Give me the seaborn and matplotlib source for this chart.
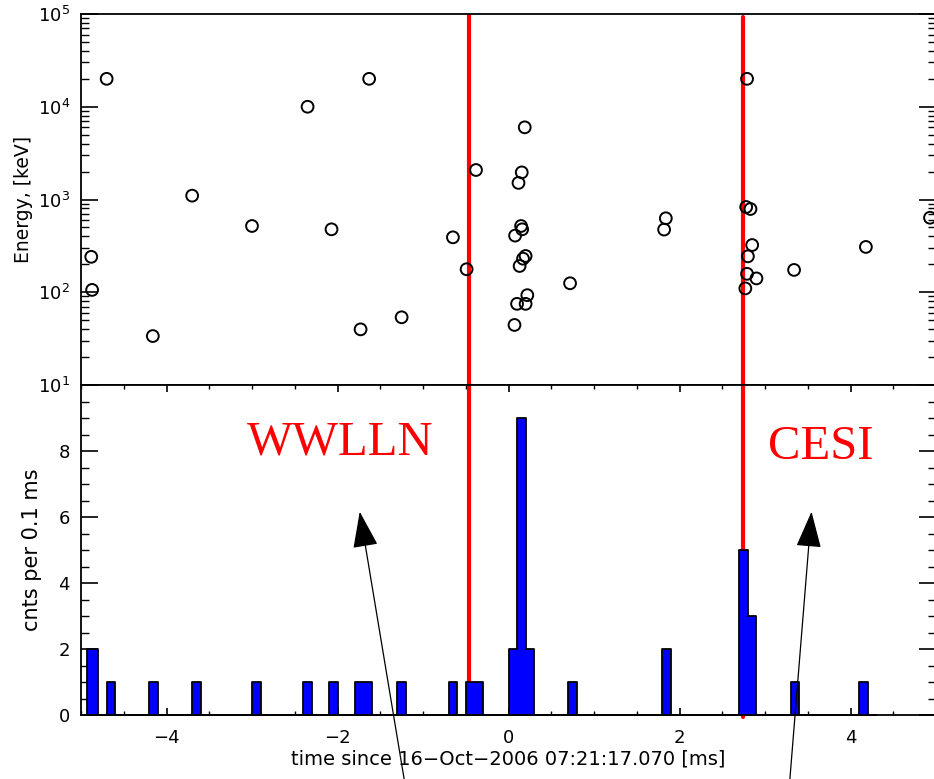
import numpy as np
import pandas as pd
import matplotlib
matplotlib.use("Agg")
import matplotlib.pyplot as plt
import matplotlib.ticker as mticker
import seaborn as sns

# ---------------- data ----------------
evt_time = [-4.70, -4.88, -4.87, -4.16, -3.70, -3.00, -2.35, -2.07, -1.63, -1.73,
            -1.25, -0.65, -0.49, -0.38, 0.19, 0.155, 0.117, 0.147, 0.16, 0.077,
            0.20, 0.17, 0.13, 0.22, 0.10, 0.20, 0.07, 0.72, 1.84, 1.82,
            2.79, 2.78, 2.83, 2.85, 2.80, 2.79, 2.90, 2.77, 3.34, 4.18, 4.93]
evt_energy = [2.0e4, 241, 106, 33.7, 1100, 518, 1.0e4, 477, 2.0e4, 39.8,
              53.7, 391, 177, 2080, 6000, 1960, 1510, 518, 477, 408,
              246, 230, 192, 93, 75, 75, 44.4, 125, 627, 474,
              2.0e4, 830, 790, 323, 244, 158, 141, 110, 174, 308, 636]

# histogram (counts per 0.1 ms): bin left edges and counts
bin_left = [-4.93, -4.7, -4.2, -3.7, -3.0, -2.4, -2.1, -1.8, -1.7, -1.3,
            -0.7, -0.5, -0.4, 0.0, 0.1, 0.2, 0.7, 1.8, 2.7, 2.8, 3.3, 4.1]
bin_count = [2, 1, 1, 1, 1, 1, 1, 1, 1, 1,
             1, 1, 1, 2, 9, 2, 1, 2, 5, 3, 1, 1]

wwlln_time = -0.465
cesi_time = 2.745

x_ticks = [-4, -2, 0, 2, 4]
y_bottom_ticks = [0, 2, 4, 6, 8]

# ---------------- style ----------------
sns.set_theme(style="ticks")
plt.rcParams["font.family"] = ["DejaVu Sans"]
plt.rcParams["axes.linewidth"] = 1.3
plt.rcParams["mathtext.default"] = "regular"
for key in ("text.color", "axes.labelcolor", "xtick.color", "ytick.color",
            "axes.edgecolor", "xtick.labelcolor", "ytick.labelcolor"):
    plt.rcParams[key] = "black"

fig = plt.figure(figsize=(9.34, 7.79), dpi=100)
W, H = 934.0, 779.0
x0, x1 = 81.0, 936.0
ax_top = fig.add_axes([x0 / W, 1 - 385 / H, (x1 - x0) / W, (385 - 14) / H])
ax_bot = fig.add_axes([x0 / W, 1 - 715 / H, (x1 - x0) / W, (715 - 385) / H],
                      sharex=ax_top)

# ---------------- top panel ----------------
df = pd.DataFrame({"t": evt_time, "E": evt_energy})
ax_top.axvline(wwlln_time, color="red", lw=3.0, zorder=1)
ax_top.axvline(cesi_time, color="red", lw=3.0, ymax=0.992, zorder=1)
sns.scatterplot(data=df, x="t", y="E", ax=ax_top, marker="o", s=72,
                facecolor="none", edgecolor="black", linewidth=1.4, zorder=3,
                legend=False)
ax_top.set_yscale("log")
ax_top.set_ylim(10, 1e5)
ax_top.set_xlim(-5, 5)
ax_top.yaxis.set_major_locator(mticker.LogLocator(base=10, numticks=10))
ax_top.yaxis.set_minor_locator(mticker.LogLocator(base=10, subs=np.arange(2, 10), numticks=20))
ax_top.yaxis.set_minor_formatter(mticker.NullFormatter())
ax_top.tick_params(axis="y", which="major", direction="in", length=12, width=1.2,
                   left=True, right=True, labelsize=13, pad=8)
ax_top.tick_params(axis="y", which="minor", direction="in", length=6, width=1.0,
                   left=True, right=True)
ax_top.tick_params(axis="x", which="both", bottom=False, top=False, labelbottom=False)
ax_top.set_xlabel("")
ax_top.set_ylabel("Energy, [keV]", fontsize=13.5, labelpad=3)

# ---------------- bottom panel ----------------
edges = [bin_left[0], -4.8] + list(np.round(np.arange(-47, 44) / 10.0, 1))
centers = [b + 0.05 for b in bin_left]
centers[0] = (bin_left[0] + (-4.8)) / 2
hist_df = pd.DataFrame({"t": centers, "n": bin_count})
ax_bot.axvline(wwlln_time, color="red", lw=3.0, zorder=1)
ax_bot.axvline(cesi_time, color="red", lw=3.0, ymin=-0.006, zorder=1, clip_on=False)
sns.histplot(data=hist_df, x="t", weights="n", bins=edges, element="step",
             fill=True, color="#0000ff", alpha=1.0, edgecolor="black",
             linewidth=1.3, ax=ax_bot, zorder=2)
ax_bot.set_ylim(0, 10)
ax_bot.set_xlim(-5, 5)
ax_bot.set_xticks(x_ticks)
ax_bot.set_xticklabels([str(v).replace("-", "\u2212") for v in x_ticks])
ax_bot.xaxis.set_minor_locator(mticker.MultipleLocator(0.5))
ax_bot.set_yticks([0, 2, 4, 6, 8, 10])
ax_bot.set_yticklabels([str(v) for v in y_bottom_ticks] + [""])
ax_bot.yaxis.set_minor_locator(mticker.MultipleLocator(0.5))
ax_bot.tick_params(axis="x", which="major", direction="in", length=5, width=1.2,
                   top=True, bottom=True, labelsize=13, pad=10)
ax_bot.tick_params(axis="x", which="minor", direction="in", length=3, width=1.0,
                   top=True, bottom=True)
ax_bot.tick_params(axis="y", which="major", direction="in", length=12, width=1.2,
                   left=True, right=True, labelsize=13, pad=8)
ax_bot.tick_params(axis="y", which="minor", direction="in", length=6, width=1.0,
                   left=True, right=True)
ax_bot.set_xlabel("time since 16\u2212Oct\u22122006 07:21:17.070 [ms]", fontsize=14, labelpad=2)
ax_bot.set_ylabel("cnts per 0.1 ms", fontsize=15, labelpad=12)

for ax in (ax_top, ax_bot):
    for sp in ax.spines.values():
        sp.set_visible(True)
        sp.set_linewidth(1.3)
        sp.set_color("black")

# ---------------- labels and arrows ----------------
ax_bot.text(-1.97, 7.88, "WWLLN", color="red", fontsize=35,
            family=["Liberation Serif", "DejaVu Serif"], ha="center", va="baseline", zorder=5)
ax_bot.text(3.647, 7.76, "CESI", color="red", fontsize=35,
            family=["Liberation Serif", "DejaVu Serif"], ha="center", va="baseline", zorder=5)

arrow_kw = dict(arrowstyle="-|>,head_length=2.3,head_width=0.8", mutation_scale=10,
                lw=0.9, color="black", shrinkA=0, shrinkB=0)
ax_bot.annotate("", xy=(-1.74, 6.16), xytext=(-1.22, -1.95), xycoords="data",
                textcoords="data", arrowprops=arrow_kw, annotation_clip=False, zorder=6)
ax_bot.annotate("", xy=(3.544, 6.16), xytext=(3.29, -1.97), xycoords="data",
                textcoords="data", arrowprops=arrow_kw, annotation_clip=False, zorder=6)

fig.savefig("out.png", dpi=100)
